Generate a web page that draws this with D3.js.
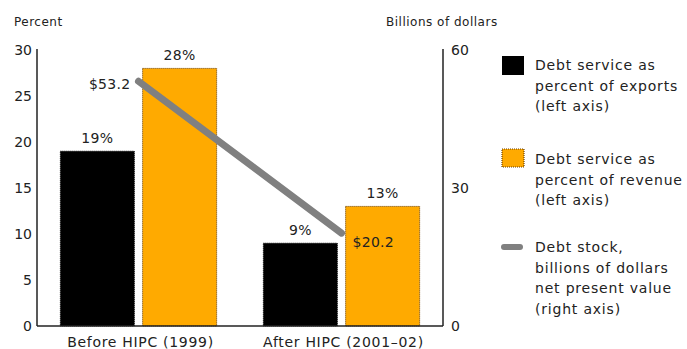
<!DOCTYPE html>
<html><head><meta charset="utf-8">
<script src="https://cdn.jsdelivr.net/npm/d3@7"></script>
<style>
html,body{margin:0;padding:0;background:#fff;}
svg text{font-family:"DejaVu Sans",sans-serif;fill:#222;}
</style></head>
<body><svg id="c" width="687" height="349"></svg>
<script>
const categories = ["Before HIPC (1999)", "After HIPC (2001–02)"];
const exportsPct = [19, 9];
const revenuePct = [28, 13];
const debtStock = [53.2, 20.2];
const debtStockLabels = ["$53.2", "$20.2"];
const leftTicks = [0, 5, 10, 15, 20, 25, 30];
const rightTicks = [0, 30, 60];
const seriesNames = ["Debt service as percent of exports (left axis)", "Debt service as percent of revenue (left axis)", "Debt stock, billions of dollars net present value (right axis)"];
const legendLines = [["Debt service as", "percent of exports", "(left axis)"], ["Debt service as", "percent of revenue", "(left axis)"], ["Debt stock,", "billions of dollars", "net present value", "(right axis)"]];

const svg = d3.select("#c");
const L = 37, R = 443, T = 50, B = 326;
const yL = d3.scaleLinear().domain([0, 30]).range([B, T]);
const yR = d3.scaleLinear().domain([0, 60]).range([B, T]);
const x0 = d3.scaleBand().domain(categories).range([L, R]).paddingInner(0.23).paddingOuter(0.115);
const x1 = d3.scaleBand().domain([0, 1]).range([0, x0.bandwidth()]).paddingInner(0.1);
const black = "#000", orange = "#FFAA00", gray = "#808080";

// bars
const g = svg.append("g");
categories.forEach((c, i) => {
  const vals = [exportsPct[i], revenuePct[i]];
  vals.forEach((v, j) => {
    g.append("rect")
      .attr("x", x0(c) + x1(j)).attr("y", yL(v))
      .attr("width", x1.bandwidth()).attr("height", B - yL(v))
      .attr("fill", j === 0 ? black : orange)
      .attr("stroke", j === 0 ? "#111" : "#6b3f00").attr("stroke-width", 1)
      .attr("stroke-dasharray", "1,1");
    g.append("text")
      .attr("x", x0(c) + x1(j) + x1.bandwidth() / 2).attr("y", yL(v) - 8)
      .attr("text-anchor", "middle").style("font-size", "14px").style("letter-spacing", "0.3px")
      .text(v + "%");
  });
  g.append("text")
    .attr("x", x0(c) + x0.bandwidth() / 2 + 2).attr("y", 347)
    .attr("text-anchor", "middle").style("font-size", "14px").style("letter-spacing", "0.7px")
    .text(c);
});

// axes
const axL = svg.append("g").attr("transform", `translate(${L},0)`)
  .call(d3.axisLeft(yL).tickValues(leftTicks).tickSize(0).tickPadding(5));
const axR = svg.append("g").attr("transform", `translate(${R},0)`)
  .call(d3.axisRight(yR).tickValues(rightTicks).tickSize(0).tickPadding(8));
[axL, axR].forEach(a => {
  a.select(".domain").remove();
  a.selectAll("text").style("font-size", "14px").style("font-family", "DejaVu Sans").attr("fill", "#222");
});
svg.append("line").attr("x1", L).attr("x2", L).attr("y1", T - 1).attr("y2", B).attr("stroke", "#222").attr("stroke-width", 1.5);
svg.append("line").attr("x1", R).attr("x2", R).attr("y1", T - 1).attr("y2", B).attr("stroke", "#222").attr("stroke-width", 1.5);
svg.append("line").attr("x1", L).attr("x2", R).attr("y1", B).attr("y2", B).attr("stroke", "#222").attr("stroke-width", 1.5);

svg.append("text").attr("x", 14).attr("y", 26).style("font-size", "12px").style("letter-spacing", "0.5px").text("Percent");
svg.append("text").attr("x", 386).attr("y", 26).style("font-size", "12px").style("letter-spacing", "0.5px").text("Billions of dollars");

// line
const pts = categories.map((c, i) => [x0(c) + x0.bandwidth() / 2, yR(debtStock[i])]);
svg.append("path").attr("d", d3.line()(pts)).attr("fill", "none")
  .attr("stroke", gray).attr("stroke-width", 7).attr("stroke-linecap", "round");
svg.append("text").attr("x", pts[0][0] - 8).attr("y", pts[0][1] + 8).attr("text-anchor", "end")
  .style("font-size", "14px").style("letter-spacing", "0.3px").text(debtStockLabels[0]);
svg.append("text").attr("x", pts[1][0] + 11).attr("y", pts[1][1] + 14).attr("text-anchor", "start")
  .style("font-size", "14px").style("letter-spacing", "0.3px").text(debtStockLabels[1]);

// legend
const lg = svg.append("g");
const lTops = [70, 164, 252];
lg.append("rect").attr("x", 502).attr("y", 56).attr("width", 22).attr("height", 19).attr("fill", black);
lg.append("rect").attr("x", 502).attr("y", 149).attr("width", 22).attr("height", 18).attr("fill", orange)
  .attr("stroke", "#6b3f00").attr("stroke-width", 1.2).attr("stroke-dasharray", "1,1");
lg.append("line").attr("x1", 504).attr("x2", 520).attr("y1", 247).attr("y2", 247)
  .attr("stroke", gray).attr("stroke-width", 6).attr("stroke-linecap", "round");
legendLines.forEach((lines, i) => {
  lines.forEach((t, k) => {
    lg.append("text").attr("x", 535).attr("y", lTops[i] + k * 20.5)
      .style("font-size", "14px").style("letter-spacing", "0.8px").text(t);
  });
});
</script></body></html>
